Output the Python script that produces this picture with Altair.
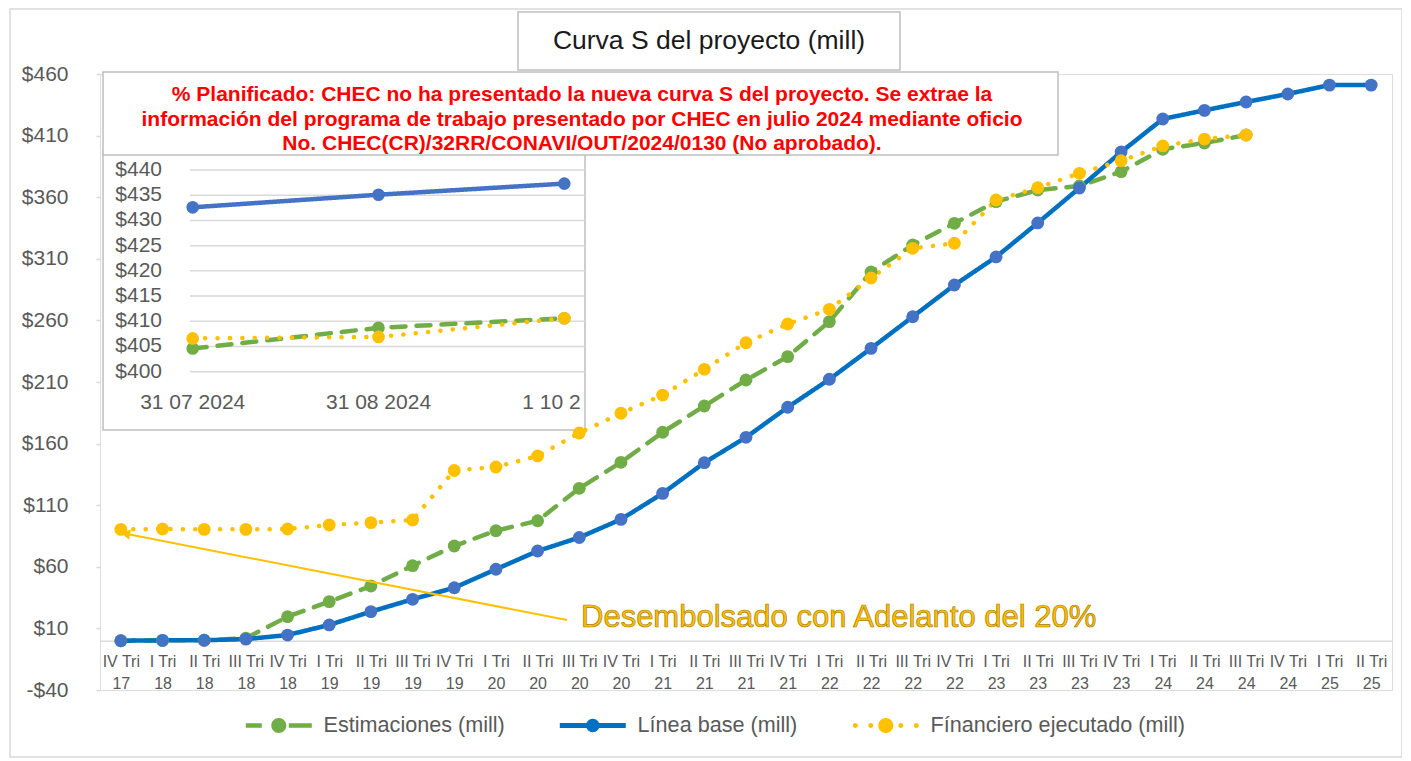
import altair as alt
import pandas as pd

# ---------------- data ----------------
trimestres = ["IV Tri", "I Tri", "II Tri", "III Tri", "IV Tri", "I Tri", "II Tri", "III Tri",
              "IV Tri", "I Tri", "II Tri", "III Tri", "IV Tri", "I Tri", "II Tri", "III Tri",
              "IV Tri", "I Tri", "II Tri", "III Tri", "IV Tri", "I Tri", "II Tri", "III Tri",
              "IV Tri", "I Tri", "II Tri", "III Tri", "IV Tri", "I Tri", "II Tri"]
anios = ["17", "18", "18", "18", "18", "19", "19", "19", "19", "20", "20", "20", "20",
         "21", "21", "21", "21", "22", "22", "22", "22", "23", "23", "23", "23",
         "24", "24", "24", "24", "25", "25"]

estimaciones = [0.0, 0.3, 0.4, 2.0, 19.5, 31.7, 44.4, 60.9, 76.9, 89.3, 97.4, 123.7, 144.8,
                169.2, 190.5, 211.6, 230.6, 259.0, 299.3, 321.2, 338.8, 356.4, 365.8, 369.1,
                380.7, 398.9, 404.0, 410.5]
linea_base = [0.0, 0.3, 0.4, 1.3, 4.6, 12.8, 23.6, 33.6, 43.0, 58.0, 72.8, 83.8, 98.5, 119.6,
              144.5, 165.1, 189.5, 212.2, 237.3, 263.0, 288.7, 311.5, 339.1, 367.5, 396.7,
              423.5, 430.5, 437.3, 443.8, 451.0, 451.0]
financiero = [90.4, 90.7, 90.4, 90.4, 90.7, 93.9, 95.8, 98.0, 138.2, 141.0, 150.0, 168.6, 184.6,
              199.4, 220.3, 241.9, 257.1, 269.0, 294.4, 318.5, 322.6, 357.7, 367.7, 379.4,
              389.6, 401.6, 407.2, 410.5]

series = ["Estimaciones (mill)", "Línea base (mill)", "Fínanciero ejecutado (mill)"]
ticks_y = [-40, 10, 60, 110, 160, 210, 260, 310, 360, 410, 460]

fechas_inset = ["31 07 2024", "31 08 2024", "1 10 2024"]
inset_estimaciones = [404.6, 408.7, 410.6]
inset_linea_base = [432.6, 435.1, 437.3]
inset_financiero = [406.6, 406.9, 410.6]
ticks_inset = [400, 405, 410, 415, 420, 425, 430, 435, 440]

titulo = "Curva S del proyecto (mill)"
nota = ["% Planificado: CHEC no ha presentado la nueva curva S del proyecto. Se extrae la",
        "información del programa de trabajo presentado por CHEC en julio 2024 mediante oficio",
        "No. CHEC(CR)/32RR/CONAVI/OUT/2024/0130 (No aprobado)."]
texto_flecha = "Desembolsado con Adelanto del 20%"

# ---------------- styles ----------------
FONT = "Liberation Sans"
GRAY_TXT = "#595959"
GRID = "#D9D9D9"
BOX = "#BFBFBF"
col_linea = ["#70AD47", "#0070C0", "#FFC000"]
col_punto = ["#70AD47", "#4472C4", "#FFC000"]
col_inset = ["#70AD47", "#4472C4", "#FFC000"]
dashes = [[14, 11], [1, 0], [0.1, 12.3]]


def circ(cx, r):
    return f"M{cx - r},0A{r},{r} 0 1,1 {cx + r},0A{r},{r} 0 1,1 {cx - r},0Z"


def bar(x0, x1, h):
    return f"M{x0},{-h}L{x1},{-h}L{x1},{h}L{x0},{h}Z"


sym_paths = [
    bar(-6.6, -3.4, 0.45) + circ(0, 1.5) + bar(2.0, 6.6, 0.45),
    bar(-6.6, 6.6, 0.5) + circ(0, 1.35),
    circ(-6.1, 0.5) + circ(-3.0, 0.5) + circ(3.0, 0.5) + circ(6.1, 0.5) + circ(0, 1.5),
]

# ---------------- tables ----------------
categorias = [f"{t}|{a}" for t, a in zip(trimestres, anios)]
rows = []
for name, vals in zip(series, [estimaciones, linea_base, financiero]):
    for i, v in enumerate(vals):
        rows.append({"cat": categorias[i], "idx": i, "serie": name, "valor": v})
df = pd.DataFrame(rows)

rows_i = []
for name, vals in zip(series, [inset_estimaciones, inset_linea_base, inset_financiero]):
    for i, v in enumerate(vals):
        rows_i.append({"fecha": fechas_inset[i], "idx": i, "serie": name, "valor": v})
df_inset = pd.DataFrame(rows_i)
df_ticks_inset = pd.DataFrame({"v": ticks_inset})
df_fechas = pd.DataFrame({"fecha": fechas_inset})
one = pd.DataFrame({"k": [0]})

# ---------------- main scales ----------------
x_main = alt.X(
    "cat:N", sort=categorias,
    scale=alt.Scale(type="point", domain=categorias, padding=0.5),
    axis=alt.Axis(title=None, labelExpr="split(datum.label, '|')", labelAngle=0,
                  labelFontSize=16, labelFont=FONT, labelColor=GRAY_TXT, labelLineHeight=22,
                  labelPadding=13, ticks=False, tickSize=0, domainColor=GRID, domainWidth=1.5,
                  grid=False, offset=-49.3, labelOverlap=False, labelBaseline="top"),
)
y_main = alt.Y(
    "valor:Q",
    scale=alt.Scale(domain=[-40, 460], nice=False, zero=False),
    axis=alt.Axis(title=None, values=ticks_y,
                  labelExpr="(datum.value < 0 ? '-$' : '$') + abs(datum.value)",
                  labelFontSize=21, labelFont=FONT, labelColor=GRAY_TXT, gridColor=GRID,
                  gridWidth=1.5, domain=False, tickColor=GRID, tickSize=4, tickWidth=1.5,
                  labelPadding=28),
)
stroke_s = alt.Stroke("serie:N", scale=alt.Scale(domain=series, range=col_linea), legend=None)
dash_s = alt.StrokeDash("serie:N", scale=alt.Scale(domain=series, range=dashes), legend=None)
fill_s = alt.Fill("serie:N", scale=alt.Scale(domain=series, range=col_punto), legend=None)

leg = alt.Legend(orient="none", legendX=145, legendY=640.5, direction="horizontal", title=None,
                 symbolSize=100, symbolOffset=23, labelOffset=34, columnPadding=54,
                 labelFontSize=21.6, labelFont=FONT, labelColor=GRAY_TXT, padding=0,
                 symbolStrokeWidth=0, symbolOpacity=1, labelLimit=0)

lines = alt.Chart(df).mark_line(strokeWidth=4.5, strokeCap="round", strokeJoin="round").encode(
    x=x_main, y=y_main, stroke=stroke_s, strokeDash=dash_s, order=alt.Order("idx:Q"))
points = alt.Chart(df).mark_circle(size=165, opacity=1).encode(x=x_main, y=y_main, fill=fill_s)
carrier = alt.Chart(df).mark_point(filled=True, opacity=0).encode(
    x=x_main, y=y_main,
    color=alt.Color("serie:N", scale=alt.Scale(domain=series, range=col_linea), legend=leg),
    shape=alt.Shape("serie:N", scale=alt.Scale(domain=series, range=sym_paths), legend=leg),
)


def box(x, x2, y, y2, fill="white", stroke=BOX, sw=1.5, fo=1):
    return alt.Chart(one).mark_rect(fill=fill, stroke=stroke, strokeWidth=sw, fillOpacity=fo).encode(
        x=alt.value(x), x2=alt.value(x2), y=alt.value(y), y2=alt.value(y2))


nota_box = box(3, 958, -2, 81)
nota_txt = alt.Chart(one).mark_text(text=nota, font=FONT, fontSize=21, fontWeight="bold",
                                    color="#FF0000", align="center", baseline="middle",
                                    lineHeight=24.5).encode(x=alt.value(482), y=alt.value(21))
title_box = box(418, 800, -62, -4)
title_txt = alt.Chart(one).mark_text(text=titulo, font=FONT, fontSize=26.5, color="#1a1a1a",
                                     align="center", baseline="middle").encode(
    x=alt.value(609), y=alt.value(-33))
arrow = alt.Chart(one).mark_rule(color="#FFC000", strokeWidth=2).encode(
    x=alt.value(467), y=alt.value(546), x2=alt.value(22), y2=alt.value(459))
arrow_head = alt.Chart(one).mark_point(shape="triangle", filled=True, color="#FFC000", size=110,
                                       angle=281, opacity=1).encode(
    x=alt.value(27), y=alt.value(460))
txt_box = box(475, 1028, 526, 562, stroke="white", sw=0)
txt = alt.Chart(one).mark_text(text=texto_flecha, font=FONT, fontSize=31, fill="#FFC000",
                               stroke="#A67C00", strokeWidth=0.7, align="left",
                               baseline="middle").encode(x=alt.value(481), y=alt.value(544))

main_group = alt.layer(lines, points, carrier, nota_box, nota_txt, title_box, title_txt,
                       arrow, arrow_head, txt_box, txt)

# ---------------- inset ----------------
inset_x = alt.Scale(type="point", domain=fechas_inset, range=[92.7, 464.3], padding=0)
inset_y = alt.Scale(domain=[400, 440], range=[297.7, 96], nice=False, zero=False)
xi = alt.X("fecha:N", scale=inset_x, axis=None)
yi = alt.Y("valor:Q", scale=inset_y, axis=None)

outer = box(-90, 1302, -65, 683, fill="white", fo=0, stroke="#D9D9D9", sw=1.5)
inset_box = box(3, 485, 76, 356)
inset_grid = alt.Chart(df_ticks_inset).mark_rule(color=GRID, strokeWidth=1.5).encode(
    x=alt.value(90), x2=alt.value(485), y=alt.Y("v:Q", scale=inset_y, axis=None))
inset_ylab = alt.Chart(df_ticks_inset).mark_text(align="right", baseline="middle", font=FONT,
                                                 fontSize=21, color=GRAY_TXT).encode(
    x=alt.value(62), y=alt.Y("v:Q", scale=inset_y, axis=None),
    text=alt.Text("v:Q", format="$,.0f"))
inset_xlab = alt.Chart(df_fechas).transform_filter(
    alt.datum.fecha != fechas_inset[2]).mark_text(
    align="center", baseline="middle", font=FONT, fontSize=21, color=GRAY_TXT).encode(
    x=xi, y=alt.value(329), text="fecha:N")
inset_xlab_clip = alt.Chart(df_fechas).transform_filter(
    alt.datum.fecha == fechas_inset[2]).mark_text(
    align="left", baseline="middle", font=FONT, fontSize=21, color=GRAY_TXT, dx=-42,
    limit=66, ellipsis="\u200b").encode(x=xi, y=alt.value(329), text="fecha:N")
inset_lines = alt.Chart(df_inset).mark_line(strokeWidth=4.5, strokeCap="round",
                                            strokeJoin="round").encode(
    x=xi, y=yi,
    stroke=alt.Stroke("serie:N", scale=alt.Scale(domain=series, range=col_inset), legend=None),
    strokeDash=alt.StrokeDash("serie:N", scale=alt.Scale(domain=series, range=dashes), legend=None),
    order=alt.Order("idx:Q"))
inset_points = alt.Chart(df_inset).mark_circle(size=160, opacity=1).encode(
    x=xi, y=yi,
    fill=alt.Fill("serie:N", scale=alt.Scale(domain=series, range=col_punto), legend=None))

inset_group = alt.layer(outer, inset_box, inset_grid, inset_ylab, inset_xlab, inset_xlab_clip,
                        inset_lines, inset_points)

chart = alt.layer(inset_group, main_group).resolve_scale(
    x="independent", y="independent", stroke="independent", fill="independent",
    strokeDash="independent"
).properties(
    width=1292, height=616,
    autosize=alt.AutoSizeParams(type="none"),
    padding={"left": 92, "top": 66, "right": 10, "bottom": 70},
    background="white",
).configure_view(stroke=None).configure(font=FONT)

chart.save("out.html", embed_options={"renderer": "svg", "actions": False})
